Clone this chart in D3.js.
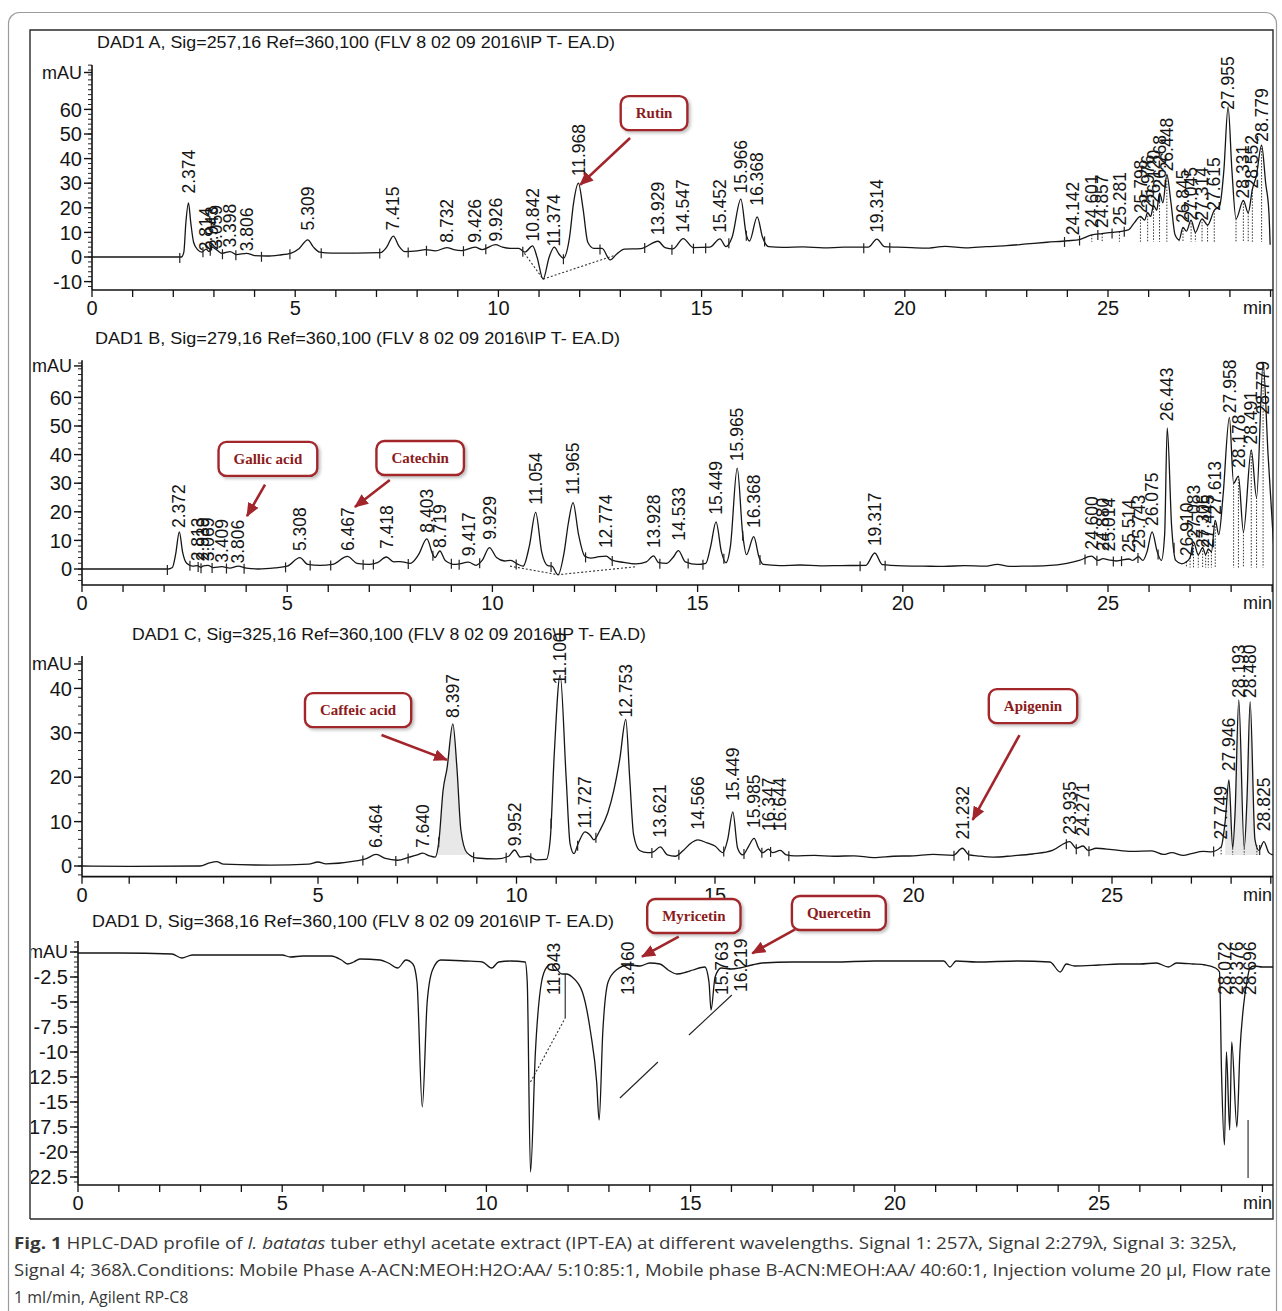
<!DOCTYPE html>
<html>
<head>
<meta charset="utf-8">
<title>HPLC-DAD profile</title>
<script src="https://cdn.jsdelivr.net/npm/d3@7"></script>
<style>
  body { margin: 0; background: #fff; }
  svg text { font-family: "Liberation Sans", Arial, sans-serif; fill: #151515; }
</style>
</head>
<body>
<svg id="chart"></svg>
<script>
// ---- titles of the four signals
const titles = [
  "DAD1 A, Sig=257,16 Ref=360,100 (FLV 8 02 09 2016\\IP T- EA.D)",
  "DAD1 B, Sig=279,16 Ref=360,100 (FLV 8 02 09 2016\\IP T- EA.D)",
  "DAD1 C, Sig=325,16 Ref=360,100 (FLV 8 02 09 2016\\IP T- EA.D)",
  "DAD1 D, Sig=368,16 Ref=360,100 (FLV 8 02 09 2016\\IP T- EA.D)"
];

// ---- traces [time (min), mAU]
const traceA = [[0,0],[2.2,0],[2.26,2],[2.31,14],[2.374,22],[2.43,14],[2.5,6],[2.6,3],[2.7,2],[2.81,3.2],[2.88,2.2],[2.95,4],[3.06,3],[3.2,1.5],[3.398,2.2],[3.55,1],[3.806,1.5],[4.0,0.6],[4.3,0.4],[4.6,0.8],[4.9,1.6],[5.1,3.5],[5.309,7],[5.45,4],[5.6,2],[5.9,1.6],[6.5,1.6],[7.1,1.8],[7.25,4],[7.415,8.5],[7.55,4.5],[7.7,2.2],[8.0,2.5],[8.2,3],[8.45,2.5],[8.732,3.8],[8.9,3],[9.1,2.6],[9.426,4],[9.6,3],[9.926,5],[10.1,4],[10.3,3.5],[10.5,3.5],[10.65,2],[10.842,4.5],[10.95,0],[11.1,-9],[11.25,0],[11.374,4],[11.5,1],[11.6,-0.5],[11.75,8],[11.85,22],[11.968,30],[12.08,20],[12.2,6],[12.35,3.5],[12.55,3.5],[12.75,-1.2],[12.9,1],[13.1,3.2],[13.5,3.4],[13.929,6.4],[14.1,3.8],[14.3,3.3],[14.547,7.5],[14.8,3.8],[15.2,4],[15.452,7.4],[15.6,4.2],[15.75,8],[15.966,23.5],[16.1,9],[16.18,6.5],[16.368,16.3],[16.5,8],[16.65,4.2],[17,3.9],[17.5,4.1],[18,3.7],[18.5,4],[19.1,4],[19.314,7.3],[19.5,4.2],[20,3.9],[20.5,3.6],[21,4.3],[21.5,3.7],[22,4.2],[22.5,4.6],[23,5.3],[23.5,6],[24.0,6.6],[24.3,7.1],[24.6,9],[24.85,9.5],[25.1,10],[25.281,10.3],[25.5,11],[25.65,14],[25.798,16.5],[25.9,15],[25.976,18],[26.05,16.5],[26.12,21],[26.2,19],[26.268,26],[26.35,22],[26.448,33.5],[26.55,22],[26.65,9],[26.75,7],[26.845,12],[26.93,10.5],[27.045,15],[27.15,10],[27.314,15.5],[27.45,13],[27.615,19],[27.75,21],[27.85,35],[27.955,61],[28.05,35],[28.15,15.5],[28.331,23],[28.45,18],[28.552,27.5],[28.65,33],[28.779,45.5],[28.88,30],[28.96,18],[28.99,5]];

const traceB = [[0,0],[2.1,0],[2.2,0.5],[2.28,5],[2.372,13],[2.45,6],[2.55,2],[2.7,1],[2.813,1.2],[2.9,0.6],[2.939,1.0],[3.069,1.3],[3.2,0.5],[3.409,0.8],[3.6,0.3],[3.806,1],[4.0,0.3],[4.3,0],[4.7,0.4],[5.0,1],[5.308,4],[5.5,1.6],[5.8,1.3],[6.1,1.6],[6.467,4.4],[6.7,2],[7.0,1.6],[7.2,2.2],[7.418,4.2],[7.6,2.5],[7.75,2.6],[8.0,2],[8.2,5],[8.403,10.5],[8.55,5],[8.6,4],[8.719,6.3],[8.85,3],[9.1,1.6],[9.417,2.4],[9.6,1.3],[9.75,3],[9.929,7.5],[10.1,4],[10.3,2.8],[10.45,3],[10.6,1.8],[10.75,1],[10.9,8],[11.054,19.8],[11.2,6],[11.35,1.2],[11.45,1],[11.6,-2],[11.75,6],[11.85,16],[11.965,23.2],[12.1,12],[12.25,4.5],[12.4,3.8],[12.6,4.3],[12.774,4.5],[12.9,3.2],[13.2,2.3],[13.5,1.8],[13.75,2.5],[13.928,4.6],[14.05,2.2],[14.25,2],[14.4,4],[14.533,6.4],[14.7,2.5],[15.0,1.6],[15.2,2],[15.32,8],[15.449,16.5],[15.58,6],[15.69,2.2],[15.8,8],[15.965,35.3],[16.1,12],[16.19,5],[16.368,11.3],[16.5,4],[16.6,1.6],[17,1.2],[17.5,1.4],[18,1.1],[18.5,1.2],[19.1,1.3],[19.317,5.6],[19.5,1.5],[20,1.1],[20.5,1],[21,0.9],[21.5,1.2],[22,1],[22.3,1.6],[22.6,0.9],[23,1],[23.5,1.2],[24,2],[24.3,3],[24.6,4.5],[24.75,3],[24.88,3.6],[25.014,3.2],[25.2,2.8],[25.514,3.5],[25.6,3],[25.743,4.3],[25.85,3],[25.95,6],[26.075,13],[26.2,6],[26.3,3],[26.38,12],[26.443,49.3],[26.55,15],[26.65,3],[26.8,1.8],[26.91,2.5],[27.0,4],[27.083,9.5],[27.2,5],[27.306,7.5],[27.38,5],[27.445,7],[27.52,6],[27.613,17],[27.7,12],[27.8,25],[27.958,53],[28.06,30],[28.178,32.5],[28.3,13],[28.491,41.6],[28.62,25],[28.779,72],[28.9,40],[29.05,5]];

const traceC = [[0,0],[1,-0.1],[2.5,0],[2.7,0.7],[2.85,1],[3.0,0.4],[4,0.2],[4.8,0.4],[5.0,0.9],[5.2,0.5],[6.0,1.2],[6.2,1.6],[6.464,2.6],[6.7,1.7],[7.0,1.3],[7.3,2],[7.5,2.5],[7.64,2.9],[7.8,2.3],[7.95,2.0],[8.05,6],[8.15,17],[8.25,22],[8.397,32],[8.5,22],[8.6,8],[8.75,3],[9.0,1.8],[9.5,1.6],[9.8,2.2],[9.952,3.6],[10.1,2],[10.3,2.2],[10.5,1.4],[10.75,1.5],[10.85,6],[10.95,25],[11.1,43],[11.25,20],[11.35,5],[11.45,2.8],[11.55,5],[11.727,7.7],[11.85,7],[11.95,5.9],[12.1,8],[12.3,12],[12.45,17],[12.6,24],[12.753,33],[12.85,20],[12.95,7],[13.1,3.5],[13.3,3],[13.45,3.2],[13.621,4.3],[13.8,2.5],[14.0,2.2],[14.2,3.5],[14.4,5.2],[14.566,5.9],[14.8,5.2],[15.0,4.5],[15.2,3],[15.32,6],[15.449,12.2],[15.57,4],[15.7,2.5],[15.85,4.5],[15.985,6.2],[16.1,4],[16.2,3],[16.347,3.8],[16.45,3],[16.644,3.5],[16.8,2.5],[17,2.3],[17.5,2.4],[18,2.2],[18.5,2.3],[19,1.9],[19.5,2.2],[20,2.3],[20.5,2.6],[21.0,2.4],[21.232,4],[21.4,2.5],[21.6,2.3],[22,2.0],[22.5,2.3],[23,2.7],[23.5,3.5],[23.935,5.5],[24.1,4],[24.271,4.5],[24.4,3.5],[24.6,4],[25,3.7],[25.5,3.3],[26,3.4],[26.3,2.6],[26.5,3],[26.8,2.4],[27.0,2.8],[27.3,3.3],[27.5,3.2],[27.749,4.3],[27.85,10],[27.946,19.4],[28.04,4],[28.1,12],[28.193,37.4],[28.33,4],[28.4,15],[28.48,37],[28.6,6],[28.7,3.5],[28.825,5.5],[28.95,3],[29.05,2.5]];

const traceD = [[0,-0.1],[1,-0.1],[2.3,-0.2],[2.54,-0.6],[2.8,-0.3],[4,-0.3],[5.0,-0.3],[5.2,-0.5],[5.5,-0.4],[6.2,-0.4],[6.45,-0.8],[6.6,-1.2],[6.75,-1.0],[6.9,-0.7],[7.4,-0.8],[7.6,-1.1],[7.83,-1.6],[8.03,-0.8],[8.2,-1.2],[8.3,-3],[8.43,-15.5],[8.55,-5],[8.68,-1.8],[8.88,-0.8],[9.5,-0.9],[9.9,-1.0],[10.13,-1.6],[10.3,-1.0],[10.6,-0.9],[10.95,-1.0],[11.0,-3],[11.08,-22],[11.2,-10],[11.35,-3],[11.48,-1.5],[11.6,-1.2],[11.85,-2.2],[11.97,-2.2],[12.1,-2.5],[12.35,-4],[12.55,-8],[12.7,-13],[12.76,-16.8],[12.85,-8],[12.98,-3],[13.18,-1.8],[13.48,-1.3],[13.76,-1.4],[14.0,-1.1],[14.25,-1.2],[14.45,-1.8],[14.66,-2.2],[14.9,-2.0],[15.06,-1.8],[15.35,-1.5],[15.45,-3],[15.5,-5.8],[15.6,-2.5],[15.75,-1.6],[16.0,-1.7],[16.2,-1.6],[16.5,-1.3],[16.75,-1.1],[17.5,-1.0],[18.5,-1.0],[19.5,-0.9],[20.5,-0.9],[21.2,-0.9],[21.35,-1.5],[21.5,-0.9],[22,-1.0],[23,-0.9],[23.8,-1.0],[24.05,-2.0],[24.2,-1.2],[24.4,-1.4],[25,-1.3],[25.5,-1.2],[26,-1.2],[26.4,-1.1],[26.7,-1.5],[26.9,-1.1],[27.3,-1.2],[27.6,-1.3],[27.85,-1.6],[27.95,-2],[28.0,-12],[28.072,-19.3],[28.12,-10],[28.2,-17.8],[28.25,-9],[28.376,-17.5],[28.45,-10],[28.55,-5],[28.62,-3],[28.696,-1.6],[28.8,-1.4],[29.0,-1.5],[29.3,-1.5]];

// ---- peak labels [retention time, mAU where the label starts]
const labelsA = [[2.374,25],[2.814,1.5],[2.943,2],[3.059,2.5],[3.398,3],[3.806,1.5],[5.309,10],[7.415,10],[8.732,5],[9.426,5],[9.926,5.5],[10.842,5.5],[11.374,3.5],[11.968,32],[13.929,8],[14.547,9],[15.452,9],[15.966,25],[16.368,20],[19.314,9],[24.142,8],[24.601,11],[24.857,11],[25.281,12],[25.798,17],[25.976,19],[26.120,21],[26.268,27],[26.448,34],[26.845,13],[27.045,14],[27.314,14],[27.615,18],[27.955,59],[28.331,23],[28.552,27],[28.779,46]];
const labelsB = [[2.372,13.6],[2.813,2],[2.939,2],[3.069,2],[3.409,1.5],[3.806,1.2],[5.308,5.6],[6.467,5.6],[7.418,6.3],[8.403,12],[8.719,6.6],[9.417,3.8],[9.929,9.5],[11.054,21.8],[11.965,25.3],[12.774,6.6],[13.928,6.6],[14.533,9.2],[15.449,18.3],[15.965,37],[16.368,13.6],[19.317,7.3],[24.600,6],[24.880,5.5],[25.014,5.5],[25.514,5],[25.743,6.5],[26.075,14.3],[26.443,51],[26.910,3.8],[27.083,10],[27.306,6.6],[27.445,6.6],[27.613,18.3],[27.958,53.8],[28.178,34.6],[28.491,42.8],[28.779,53.3]];
const labelsC = [[6.464,3.6],[7.640,3.6],[8.397,32.9],[9.952,4],[11.100,40.4],[11.727,8],[12.753,33],[13.621,5.9],[14.566,7.7],[15.449,14.2],[15.985,8.1],[16.347,7.4],[16.644,7.4],[21.232,5.5],[23.935,6.6],[24.271,6.2],[27.749,5.5],[27.946,20.9],[28.193,37.4],[28.480,37.4],[28.825,7.4]];
const labelsD = [[11.643,-4.5],[13.460,-4.5],[15.763,-4.5],[16.219,-4.2],[28.072,-4.5],[28.376,-4.5],[28.696,-4.5]];

// ---- peak start/stop marks (min)
const ticksA = [2.16,2.73,2.91,3.21,3.54,4.17,4.87,5.64,7.08,7.78,8.23,9.14,9.69,10.6,11.6,12.5,13.6,14.27,14.8,15.1,15.67,16.1,16.55,18.99,19.63,23.93,24.3,24.75,25.1,25.4];
const ticksB = [2.08,2.63,2.83,2.9,3.17,3.52,3.95,4.96,5.56,6.06,6.85,7.1,7.95,8.55,9.0,9.19,9.69,10.58,11.43,12.27,12.92,14.08,14.77,15.13,15.64,16.1,16.52,18.96,19.57,24.44,24.73,25.13,25.33,25.73,26.22,26.61];
const ticksC = [6.13,6.96,7.27,8.04,8.92,9.74,10.36,10.87,11.54,12.0,13.41,14.09,15.22,15.73,16.18,16.4,16.86,21.02,21.39,23.85,24.1,24.42,27.56,28.72];
const ticksD = [];

// ---- dotted drop lines (min) and the level they drop to
const dropsA = [24.601,24.857,25.281,25.798,25.976,26.12,26.268,26.448,26.75,26.845,27.045,27.15,27.314,27.45,27.615,28.15,28.331,28.45,28.552,28.779];
const dropsB = [26.91,27.0,27.083,27.2,27.306,27.38,27.445,27.52,27.613,28.06,28.178,28.3,28.491,28.62,28.779];
const dropsC = [27.749,28.04,28.33,28.65];
const dropsD = [];
const dropLevels = [6.2, 0.5, 2.5, 0];

// ---- integration baselines (dotted) and extra drawn lines (solid)
const dottedA = [[[10.64,1.5],[11.1,-9],[12.85,0.6]]];
const dottedB = [[[10.43,1],[11.6,-2],[13.5,0.8]]];
const dottedC = [];
const dottedD = [[[11.08,-13],[11.93,-6.6]]];
const solidD = [[[11.93,-2.2],[11.93,-6.6]],[[13.27,-14.6],[14.2,-11]],[[14.96,-8.3],[16.01,-4.3]],[[28.65,-16.8],[28.65,-22.6]]];

// ---- shaded peak areas (min)
const shadeC = [[7.95,8.75],[27.75,28.7]];

// ---- compound call-outs [name, box centre t, v, arrow tail t, v, arrow head t, v]
const annotA = [["Rutin",13.83,58.5,13.24,48.4,12.01,29.3]];
const annotB = [["Gallic acid",4.53,38.5,4.46,29.5,4.02,18.5],["Catechin",8.24,38.8,7.5,31.1,6.65,21.7]];
const annotC = [["Caffeic acid",6.01,35.1,6.6,29.5,8.25,23.9],["Apigenin",23.01,36,22.67,29.5,21.49,10.4]];
const annotD = [["Myricetin",15.08,3.6,14.71,1.53,13.81,-0.47],["Quercetin",18.63,3.9,17.56,2.27,16.51,-0.13]];

// ---- axis tick values
const yTicksA = [-10,0,10,20,30,40,50,60];
const yTicksB = [0,10,20,30,40,50,60];
const yTicksC = [0,10,20,30,40];
const yTicksD = [-22.5,-20,-17.5,-15,-12.5,-10,-7.5,-5,-2.5];

const captionLines = [
  [["b","Fig. 1"],["n"," HPLC-DAD profile of "],["i","I. batatas"],["n"," tuber ethyl acetate extract (IPT-EA) at different wavelengths. Signal 1: 257λ, Signal 2:279λ, Signal 3: 325λ,"]],
  [["n","Signal 4; 368λ.Conditions: Mobile Phase A-ACN:MEOH:H2O:AA/ 5:10:85:1, Mobile phase B-ACN:MEOH:AA/ 40:60:1, Injection volume 20 µl, Flow rate"]],
  [["n","1 ml/min, Agilent RP-C8"]]
];

// ================= drawing
const W = 1282, H = 1311;
const FRAME = {l: 30, t: 30, r: 1273, b: 1219};

const svg = d3.select("#chart").attr("width", W).attr("height", H);
const defs = svg.append("defs");
defs.append("clipPath").attr("id", "frameClip").append("rect")
  .attr("x", FRAME.l + 1).attr("y", FRAME.t + 1)
  .attr("width", FRAME.r - FRAME.l - 1).attr("height", FRAME.b - FRAME.t - 1);
defs.append("marker").attr("id", "arrow").attr("markerUnits", "userSpaceOnUse")
  .attr("markerWidth", 16).attr("markerHeight", 12).attr("refX", 13).attr("refY", 6)
  .attr("orient", "auto")
  .append("path").attr("d", "M0,0 L14,6 L0,12 Z").attr("fill", "#a2252b");
const shadow = defs.append("filter").attr("id", "shadow").attr("x", "-20%").attr("y", "-30%").attr("width", "150%").attr("height", "170%");
shadow.append("feDropShadow").attr("dx", 2).attr("dy", 2).attr("stdDeviation", 1.5).attr("flood-color", "#777").attr("flood-opacity", 0.45);

// card
svg.append("rect").attr("x", 8.5).attr("y", 12.5).attr("width", 1268).attr("height", 1320)
  .attr("rx", 11).attr("fill", "none").attr("stroke", "#9c9c9c").attr("stroke-width", 1.2);

// frame of the scanned figure
svg.append("path")
  .attr("d", `M${FRAME.l},${FRAME.b}V${FRAME.t}H${FRAME.r}V${FRAME.b}H${FRAME.l}`)
  .attr("fill", "none").attr("stroke", "#2a2a2a").attr("stroke-width", 1.4);

const plot = svg.append("g").attr("clip-path", "url(#frameClip)");

function interp(tr, t) {
  for (let i = 1; i < tr.length; i++) {
    if (tr[i][0] >= t) {
      const [t0, v0] = tr[i - 1], [t1, v1] = tr[i];
      return v0 + (v1 - v0) * (t - t0) / (t1 - t0);
    }
  }
  return tr[tr.length - 1][1];
}

const panels = [
  { title: titles[0], titleX: 97, titleY: 42, titleW: 518,
    trace: traceA, labels: labelsA, ticks: ticksA, drops: dropsA, dropLevel: dropLevels[0],
    dotted: dottedA, solid: [], shade: [], annots: annotA,
    x: d3.scaleLinear().domain([0, 25]).range([92, 1108]),
    y: d3.scaleLinear().domain([0, 60]).range([257, 109.4]),
    yTicks: yTicksA, yMinor: 2, yTop: 78, yBot: -13.4, mauAt: 75 },
  { title: titles[1], titleX: 95, titleY: 338, titleW: 525,
    trace: traceB, labels: labelsB, ticks: ticksB, drops: dropsB, dropLevel: dropLevels[1],
    dotted: dottedB, solid: [], shade: [], annots: annotB,
    x: d3.scaleLinear().domain([0, 25]).range([82, 1108]),
    y: d3.scaleLinear().domain([0, 60]).range([569, 397.4]),
    yTicks: yTicksB, yMinor: 2, yTop: 73, yBot: -5.6, mauAt: 71 },
  { title: titles[2], titleX: 132, titleY: 634, titleW: 514,
    trace: traceC, labels: labelsC, ticks: ticksC, drops: dropsC, dropLevel: dropLevels[2],
    dotted: dottedC, solid: [], shade: shadeC, annots: annotC,
    x: d3.scaleLinear().domain([0, 5, 25]).range([82, 318, 1112]),
    y: d3.scaleLinear().domain([0, 40]).range([866, 688.4]),
    yTicks: yTicksC, yMinor: 2, yTop: 47.3, yBot: -2.4, mauAt: 45.5 },
  { title: titles[3], titleX: 92, titleY: 921, titleW: 522,
    trace: traceD, labels: labelsD, ticks: ticksD, drops: dropsD, dropLevel: dropLevels[3],
    dotted: dottedD, solid: solidD, shade: [], annots: annotD,
    x: d3.scaleLinear().domain([0, 25]).range([78, 1099]),
    y: d3.scaleLinear().domain([0, -20]).range([952, 1152]),
    yTicks: yTicksD, yMinor: 0.5, yTop: 1.1, yBot: -23.3, mauAt: 0 }
];

function drawPanel(p) {
  const g = plot.append("g");
  const x = p.x, y = p.y;
  const x0 = x(0), xEnd = FRAME.r;
  const tMax = x.invert(xEnd);
  const yAxis = y(p.yBot);

  g.append("text").attr("x", p.titleX).attr("y", p.titleY + 6)
    .attr("font-size", 17).attr("textLength", p.titleW).attr("lengthAdjust", "spacingAndGlyphs")
    .text(p.title);

  // y axis
  g.append("line").attr("x1", x0).attr("x2", x0).attr("y1", y(p.yTop)).attr("y2", yAxis)
    .attr("stroke", "#111").attr("stroke-width", 1.6);
  const n0 = Math.ceil(p.yBot / p.yMinor), n1 = Math.floor(p.yTop / p.yMinor);
  g.selectAll(".ymin").data(d3.range(n0, n1 + 1).map(k => k * p.yMinor)).enter().append("line")
    .attr("x1", x0 - 4).attr("x2", x0).attr("y1", d => y(d)).attr("y2", d => y(d))
    .attr("stroke", "#222").attr("stroke-width", 1);
  g.selectAll(".ymaj").data(p.yTicks.concat([p.mauAt])).enter().append("line")
    .attr("x1", x0 - 8).attr("x2", x0).attr("y1", d => y(d)).attr("y2", d => y(d))
    .attr("stroke", "#111").attr("stroke-width", 1.4);
  g.selectAll(".ylab").data(p.yTicks).enter().append("text")
    .attr("x", x0 - 10).attr("y", d => y(d)).attr("dy", "0.36em")
    .attr("text-anchor", "end").attr("font-size", 20).text(d => d);
  g.append("text").attr("x", x0 - 10).attr("y", y(p.mauAt)).attr("dy", "0.36em")
    .attr("text-anchor", "end").attr("font-size", 18).text("mAU");

  // x axis
  g.append("line").attr("x1", x0).attr("x2", xEnd).attr("y1", yAxis).attr("y2", yAxis)
    .attr("stroke", "#111").attr("stroke-width", 1.6);
  g.selectAll(".xt").data(d3.range(0, Math.floor(tMax) + 1)).enter().append("line")
    .attr("x1", d => x(d)).attr("x2", d => x(d)).attr("y1", yAxis).attr("y2", yAxis + 7)
    .attr("stroke", "#111").attr("stroke-width", 1.3);
  g.selectAll(".xl").data(d3.range(0, Math.floor(tMax) + 1, 5)).enter().append("text")
    .attr("x", d => x(d)).attr("y", yAxis + 18).attr("dy", "0.36em")
    .attr("text-anchor", "middle").attr("font-size", 20).text(d => d);
  g.append("text").attr("x", xEnd - 1).attr("y", yAxis + 18).attr("dy", "0.36em")
    .attr("text-anchor", "end").attr("font-size", 18).text("min");

  // shaded peaks
  p.shade.forEach(([a, b]) => {
    const pts = p.trace.filter(d => d[0] >= a && d[0] <= b);
    g.append("path").datum(pts)
      .attr("d", d3.area().x(d => x(d[0])).y0(y(p.dropLevel)).y1(d => y(d[1])).curve(d3.curveMonotoneX))
      .attr("fill", "#e8e8e8");
  });

  // integration baselines
  p.dotted.forEach(seg => {
    g.append("path").datum(seg).attr("d", d3.line().x(d => x(d[0])).y(d => y(d[1])))
      .attr("fill", "none").attr("stroke", "#333").attr("stroke-width", 1.1).attr("stroke-dasharray", "2,2");
  });
  p.solid.forEach(seg => {
    g.append("path").datum(seg).attr("d", d3.line().x(d => x(d[0])).y(d => y(d[1])))
      .attr("fill", "none").attr("stroke", "#222").attr("stroke-width", 1.1);
  });

  // drop lines
  g.selectAll(".drop").data(p.drops).enter().append("line")
    .attr("x1", d => x(d)).attr("x2", d => x(d))
    .attr("y1", d => y(interp(p.trace, d))).attr("y2", y(p.dropLevel))
    .attr("stroke", "#333").attr("stroke-width", 1).attr("stroke-dasharray", "1.5,1.5");

  // trace
  g.append("path").datum(p.trace)
    .attr("d", d3.line().x(d => x(d[0])).y(d => y(d[1])).curve(d3.curveMonotoneX))
    .attr("fill", "none").attr("stroke", "#161616").attr("stroke-width", 1.3);

  // peak start/stop marks
  g.selectAll(".ev").data(p.ticks).enter().append("line")
    .attr("x1", d => x(d)).attr("x2", d => x(d))
    .attr("y1", d => y(interp(p.trace, d)) - 4).attr("y2", d => y(interp(p.trace, d)) + 6)
    .attr("stroke", "#222").attr("stroke-width", 1.2);

  // retention-time labels
  g.selectAll(".rt").data(p.labels).enter().append("text")
    .attr("transform", d => `translate(${x(d[0])},${y(d[1]) - 2}) rotate(-90)`)
    .attr("dy", "0.35em").attr("font-size", 17.5).text(d => d[0].toFixed(3));

  // call-outs
  p.annots.forEach(a => {
    const [name, tc, vc, tt, vt, th, vh] = a;
    g.append("line").attr("x1", x(tt)).attr("y1", y(vt)).attr("x2", x(th)).attr("y2", y(vh))
      .attr("stroke", "#a2252b").attr("stroke-width", 2.6).attr("marker-end", "url(#arrow)");
    const box = g.append("g").attr("transform", `translate(${x(tc)},${y(vc)})`);
    const rect = box.append("rect");
    const txt = box.append("text").attr("text-anchor", "middle").attr("dy", "0.35em")
      .style("font-family", '"Liberation Serif", "DejaVu Serif", serif')
      .style("font-weight", "bold").style("fill", "#8c1b20").attr("font-size", 15).text(name);
    const w = txt.node().getComputedTextLength() + 30, h = 34;
    rect.attr("x", -w / 2).attr("y", -h / 2).attr("width", w).attr("height", h).attr("rx", 8)
      .attr("fill", "#fff").attr("stroke", "#a2252b").attr("stroke-width", 2.4)
      .attr("filter", "url(#shadow)");
  });
}

panels.forEach(drawPanel);

// caption
const cap = svg.append("g");
const capY = [1249, 1276, 1303];
const capW = [1223, 1257, null];
captionLines.forEach((line, i) => {
  const t = cap.append("text").attr("x", 14).attr("y", capY[i])
    .style("font-family", '"Open Sans", "Noto Sans", sans-serif').style("fill", "#383838")
    .attr("font-size", 16);
  line.forEach(([k, s]) => {
    const ts = t.append("tspan").text(s).style("fill", "#383838");
    if (k === "b") ts.style("font-weight", "bold");
    if (k === "i") ts.style("font-style", "italic");
  });
  if (capW[i]) t.attr("textLength", capW[i]).attr("lengthAdjust", "spacingAndGlyphs");
});
</script>
</body>
</html>
